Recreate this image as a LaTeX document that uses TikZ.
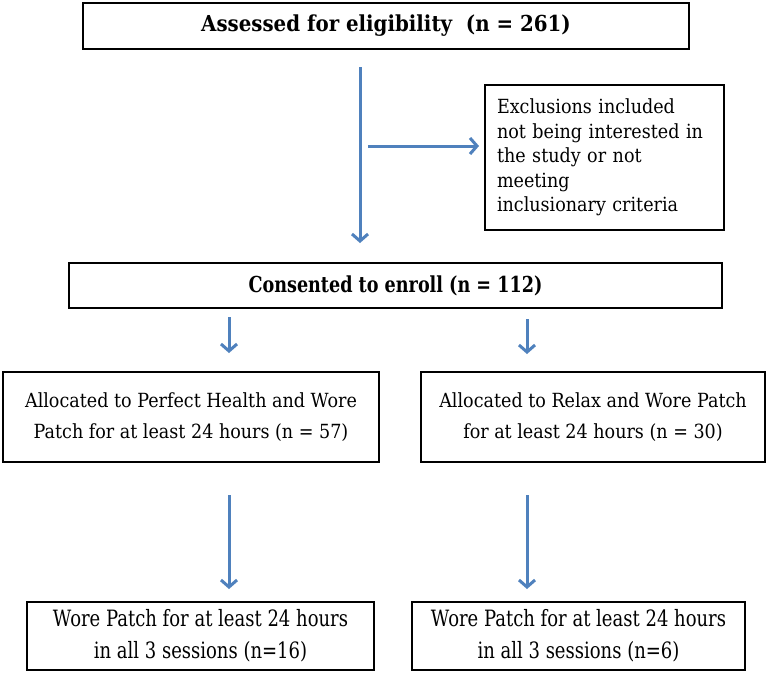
\documentclass[tikz,border=0pt]{standalone}
\usepackage{fontspec}
\setmainfont{DejaVu Serif}
\newfontfamily\condfont[FakeStretch=0.80]{DejaVu Serif}
\newfontfamily\midfont[FakeStretch=0.90]{DejaVu Serif}
\usetikzlibrary{arrows.meta}
\definecolor{arrblue}{RGB}{79,129,189}
\begin{document}
\begin{tikzpicture}[x=1pt,y=-1pt,
  box/.style={draw=black,line width=2pt,fill=white,inner sep=0pt,anchor=center},
  arr/.style={draw=arrblue,line width=3pt,-{Straight Barb[length=7pt,width=16pt,line width=3pt]}}]
\useasboundingbox (0,0) rectangle (768,675);
\fill[white] (0,0) rectangle (768,675);
% boxes
\node[box,minimum width=606pt,minimum height=46pt,
  font=\midfont\fontsize{22}{26}\selectfont\bfseries] (assess) at (386,26)
  {Assessed for eligibility\ \ (n = 261)};
\node[box,minimum width=239pt,minimum height=145pt,text width=215pt,align=left,
  font=\midfont\fontsize{19.5}{24.5}\selectfont] (excl) at (604.5,157.5)
  {Exclusions included\\not being interested in\\the study or not\\meeting\\inclusionary criteria};
\node[box,minimum width=653pt,minimum height=45pt,
  font=\condfont\fontsize{22}{26}\selectfont\bfseries] (consent) at (395.5,285.5)
  {Consented to enroll (n = 112)};
\node[box,minimum width=376pt,minimum height=90pt,align=center,
  font=\midfont\fontsize{19.5}{31}\selectfont] (allocL) at (191,417)
  {Allocated to Perfect Health and Wore\\Patch for at least 24 hours (n = 57)};
\node[box,minimum width=344pt,minimum height=90pt,align=center,
  font=\midfont\fontsize{19.5}{31}\selectfont] (allocR) at (593,417)
  {Allocated to Relax and Wore Patch\\for at least 24 hours (n = 30)};
\node[box,minimum width=347pt,minimum height=68pt,align=center,
  font=\condfont\fontsize{22.5}{32}\selectfont] (wornL) at (200.5,636)
  {Wore Patch for at least 24 hours\\in all 3 sessions (n=16)};
\node[box,minimum width=333pt,minimum height=68pt,align=center,
  font=\condfont\fontsize{22.5}{32}\selectfont] (wornR) at (578.5,636)
  {Wore Patch for at least 24 hours\\in all 3 sessions (n=6)};
% arrow end points
\coordinate (mainS) at (360,67);
\coordinate (mainE) at (360,243);
\coordinate (sideS) at (368,146);
\coordinate (sideE) at (479,146);
\coordinate (lS1) at (229,317);
\coordinate (lE1) at (229,353);
\coordinate (rS1) at (527,319);
\coordinate (rE1) at (527,354);
\coordinate (lS2) at (229,495);
\coordinate (lE2) at (229,589);
\coordinate (rS2) at (527,495);
\coordinate (rE2) at (527,589);
% arrows
\draw[arr] (mainS) -- (mainE);
\draw[arr] (sideS) -- (sideE);
\draw[arr] (lS1) -- (lE1);
\draw[arr] (rS1) -- (rE1);
\draw[arr] (lS2) -- (lE2);
\draw[arr] (rS2) -- (rE2);
\end{tikzpicture}
\end{document}
